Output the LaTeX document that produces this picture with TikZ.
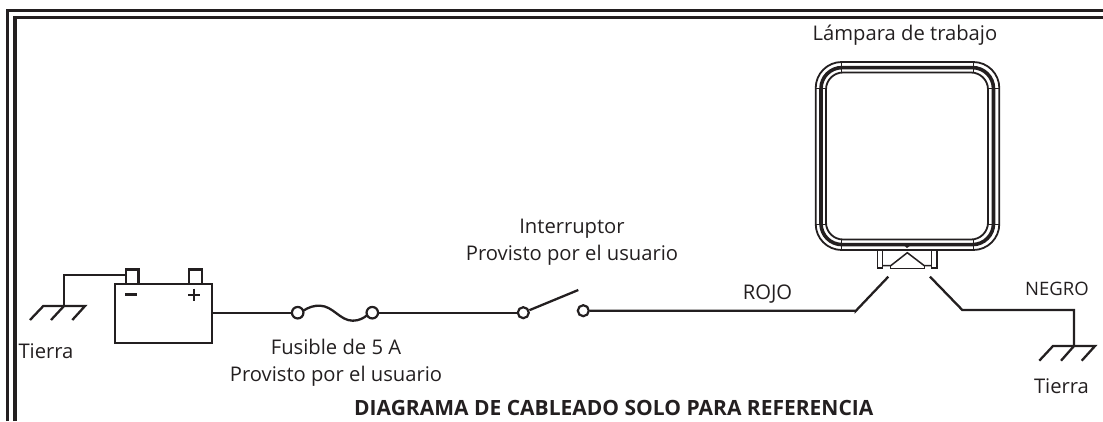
\documentclass[tikz,border=0pt]{standalone}
\usepackage{fontspec}
\setmainfont{Open Sans}
\definecolor{ink}{HTML}{231F20}
\tikzset{
 wire/.style={draw=ink,line width=2.3pt},
 framel/.style={draw=ink,line width=3.4pt},
 thinl/.style={draw=ink,line width=1.8pt},
 thickl/.style={draw=ink,line width=3.6pt},
 term/.style={circle,draw=ink,line width=2.2pt,fill=white,minimum size=11pt,inner sep=0pt},
 lab/.style={text=ink,font=\fontsize{20.2}{22}\selectfont,inner sep=0pt,anchor=base},
 box/.style={draw=ink,line width=2.3pt,inner sep=0pt,fill=white},
 pt/.style={inner sep=0pt,outer sep=0pt}
}
\begin{document}
\begin{tikzpicture}[x=1pt,y=-1pt]
\useasboundingbox (0,0) rectangle (1103,421);
% frame
\draw[framel] (7.7,421) -- (7.7,10.7) -- (1103,10.7);
\draw[framel] (15,421) -- (15,17.7) -- (1103,17.7);
% lamp
\draw[thinl,rounded corners=26pt] (815.7,62) rectangle (999.3,250);
\draw[thickl,rounded corners=21pt] (821,67.6) rectangle (993.5,244.6);
\draw[thinl,rounded corners=17pt] (826,72.5) rectangle (988,239.5);
\draw[draw=ink,line width=.7pt] (841,61) -- (841,73) (973,61) -- (973,73) (841,239) -- (841,251) (973,239) -- (973,251)
  (815,88) -- (827,88) (987,88) -- (1000,88) (815,224) -- (827,224) (987,224) -- (1000,224);
\fill[ink] (903.5,245) -- (911,245) -- (907,248) -- cycle;
% lamp connector
\draw[draw=ink,line width=1.5pt] (877.5,250.7) -- (877.5,268) -- (882.7,268) -- (882.7,250.7);
\draw[draw=ink,line width=1.5pt] (931.7,250.7) -- (931.7,268) -- (937,268) -- (937,250.7);
\draw[draw=ink,line width=1.5pt] (882.7,265.7) -- (890.7,265.7) -- (907.3,252.7) -- (924.3,265.7) -- (931.7,265.7);
\draw[draw=ink,line width=1.5pt] (890.7,265.7) -- (890.7,268.3) -- (924.3,268.3) -- (924.3,265.7);
% battery
\node[box,minimum width=12.3pt,minimum height=14.5pt,anchor=north west] (neg) at (125,268.3) {};
\node[box,minimum width=13pt,minimum height=14.5pt,anchor=north west] (pos) at (187.7,268.3) {};
\node[box,minimum width=97pt,minimum height=59pt,anchor=north west] (bat) at (114,282.7) {};
\draw[draw=ink,line width=2.2pt] (125,294.4) -- (136.7,294.4) (188,294.7) -- (200,294.7) (194,288.7) -- (194,300.7);
% left ground
\coordinate (gl) at (64,306);
\coordinate (glc) at (64,275);
\draw[wire] (neg.west |- glc) -- (glc) -- (gl);
\draw[wire] (30,320) -- (43.3,306) -- (85,306) -- (72.3,320);
\draw[wire] (51,320) -- (gl);
% fuse
\node[term,minimum size=11.5pt] (f1) at (297.7,312.7) {};
\node[term,minimum size=11.5pt] (f2) at (372.3,312.7) {};
\draw[wire] (bat.east |- f1) -- (f1);
\draw[wire] (f1) ++(5.2,-1.8) .. controls (309,307) and (314,305.5) .. (320,305.7) .. controls (333,306) and (340,320.7) .. (352.7,320.7) .. controls (359,320.7) and (364,318) .. (367.3,315);
% switch
\node[term] (s1) at (523.3,312.7) {};
\node[term] (s2) at (583.3,310.7) {};
\draw[wire] (f2) -- (s1);
\coordinate (bl) at (578.3,290);
\draw[wire] (s1) -- (bl);
% wires to lamp
\coordinate (rk) at (855.7,311);
\coordinate (re) at (888.3,276.7);
\coordinate (nk) at (962.3,310);
\coordinate (ne) at (930,276.7);
\coordinate (gr) at (1074,346);
\coordinate (grc) at (1074,310);
\draw[wire] (s2) -- (s2 -| rk) -- (rk) -- (re);
\draw[wire] (ne) -- (nk) -- (grc) -- (gr);
\draw[wire] (1039.3,360.7) -- (1053,346) -- (1095,346) -- (1081.7,360.7);
\draw[wire] (1061,360.7) -- (gr);
% labels
\node[lab] (t1) at (905,40.7) {Lámpara de trabajo};
\node[lab] (t2) at (572,233) {Interruptor};
\node[lab] (t3) at (572,260.3) {Provisto por el usuario};
\node[lab] (t4) at (336,354.7) {Fusible de 5 A};
\node[lab] (t5) at (336,381.7) {Provisto por el usuario};
\node[lab] (t6) at (767.5,299) {ROJO};
\node[lab,font=\fontsize{18.5}{22}\selectfont] (t7) at (1057,295) {NEGRO};
\node[lab] (t8) at (46,358.3) {Tierra};
\node[lab] (t9) at (1061.5,393) {Tierra};
\node[lab,font=\bfseries\fontsize{21}{22}\selectfont] (t10) at (613.8,415) {DIAGRAMA DE CABLEADO SOLO PARA REFERENCIA};
\end{tikzpicture}
\end{document}
